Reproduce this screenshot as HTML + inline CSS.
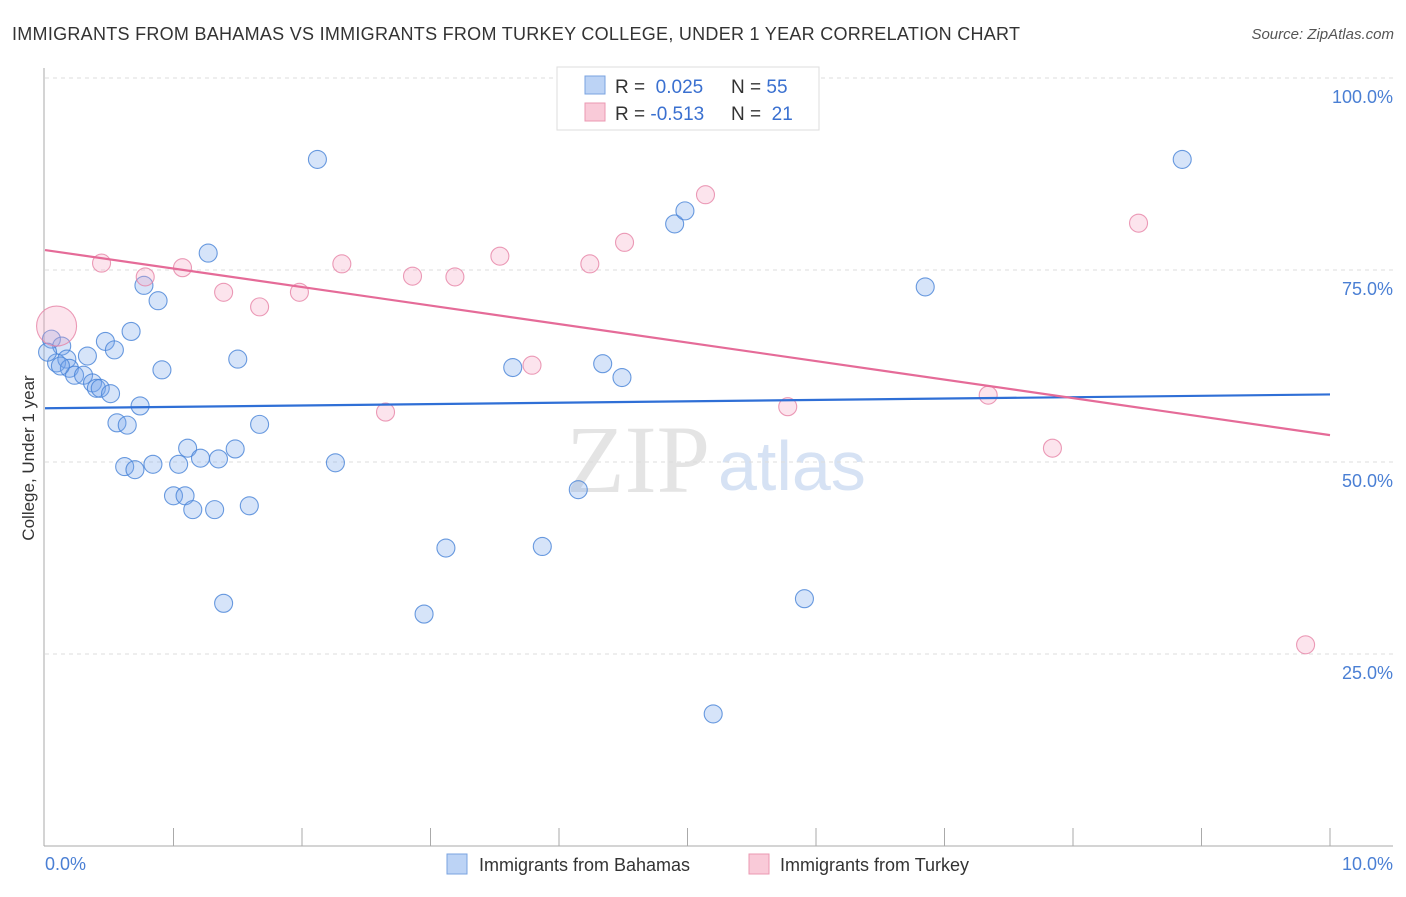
<!DOCTYPE html>
<html><head><meta charset="utf-8"><style>
body{margin:0;background:#fff;font-family:"Liberation Sans",sans-serif}
</style></head><body>
<svg id="chart" width="1406" height="892" xmlns="http://www.w3.org/2000/svg" font-family="Liberation Sans, sans-serif">
<text x="12" y="40" font-size="18" fill="#333" textLength="1008" lengthAdjust="spacing">IMMIGRANTS FROM BAHAMAS VS IMMIGRANTS FROM TURKEY COLLEGE, UNDER 1 YEAR CORRELATION CHART</text>
<text x="1394" y="39" font-size="15" fill="#555" text-anchor="end" font-style="italic">Source: ZipAtlas.com</text>
<text x="710" y="492" font-size="96" fill="#e4e4e4" text-anchor="end" font-family="Liberation Serif, serif">ZIP</text>
<text x="718" y="490" font-size="70" fill="#d6e2f4">atlas</text>
<g id="grid"></g><g id="axes"></g><g id="marks"></g>
<text transform="translate(34,458) rotate(-90)" font-size="17" fill="#333" text-anchor="middle">College, Under 1 year</text>
<text x="45" y="870" font-size="18" fill="#4a7fd4">0.0%</text>
<text x="1393" y="870" font-size="18" fill="#4a7fd4" text-anchor="end">10.0%</text>
<g>
<rect x="557" y="67" width="262" height="63" fill="#fff" stroke="#ddd"/>
<rect x="585" y="76" width="20" height="18" fill="#bcd3f5" stroke="#7aa3e0"/>
<rect x="585" y="103" width="20" height="18" fill="#f9cad8" stroke="#eb98b2"/>
<text x="615" y="93" font-size="19" fill="#333">R = <tspan fill="#3a70d0">&#160;0.025</tspan><tspan x="731">N = </tspan><tspan fill="#3a70d0">55</tspan></text>
<text x="615" y="120" font-size="19" fill="#333">R = <tspan fill="#3a70d0">-0.513</tspan><tspan x="731">N = </tspan><tspan fill="#3a70d0">&#160;21</tspan></text>
</g>
<g>
<rect x="447" y="854" width="20" height="20" fill="#bcd3f5" stroke="#7aa3e0"/>
<text x="479" y="871" font-size="18" fill="#333">Immigrants from Bahamas</text>
<rect x="749" y="854" width="20" height="20" fill="#f9cad8" stroke="#eb98b2"/>
<text x="780" y="871" font-size="18" fill="#333">Immigrants from Turkey</text>
</g>
</svg>
<script>
const yTicks=[25,50,75,100];
const yTickLabels=["25.0%","50.0%","75.0%","100.0%"];
const xTicks=[1,2,3,4,5,6,7,8,9,10];
const bahamasX=[0.05,0.09,0.13,0.17,0.19,0.23,0.30,0.33,0.37,0.40,0.43,0.47,0.51,0.54,0.56,0.64,0.67,0.62,0.70,0.74,0.77,0.84,0.88,0.91,1.00,1.04,1.09,1.11,1.15,1.21,1.27,1.32,1.35,1.39,1.48,1.50,1.59,1.67,2.12,2.26,2.95,3.12,3.64,3.87,4.15,4.34,4.49,4.90,4.98,5.20,5.91,6.85,8.85,0.02,0.12];
const bahamasY=[66.0,62.9,65.1,63.4,62.2,61.3,61.3,63.8,60.3,59.6,59.6,65.7,58.9,64.6,55.1,54.8,67.0,49.4,49.0,57.3,73.0,49.7,71.0,62.0,45.6,49.7,45.6,51.8,43.8,50.5,77.2,43.8,50.4,31.6,51.7,63.4,44.3,54.9,89.4,49.9,30.2,38.8,62.3,39.0,46.4,62.8,61.0,81.0,82.7,17.2,32.2,72.8,89.4,64.3,62.5];
const turkeyX=[0.09,0.44,0.78,1.07,1.39,1.67,1.98,2.31,2.65,2.86,3.19,3.54,3.79,4.24,4.51,5.14,5.78,7.34,7.84,8.51,9.81];
const turkeyY=[67.7,75.9,74.1,75.3,72.1,70.2,72.1,75.8,56.5,74.2,74.1,76.8,62.6,75.8,78.6,84.8,57.2,58.7,51.8,81.1,26.2];
const trendX=[0,10];
const bahamasTrend=[57.0,58.8];
const turkeyTrend=[77.6,53.5];
const NS='http://www.w3.org/2000/svg';
const xs=v=>45+v/10*1285, ys=v=>846-v/25*192;
function mk(t,a,p){const e=document.createElementNS(NS,t);for(const k in a)e.setAttribute(k,a[k]);document.getElementById(p).appendChild(e);return e;}
yTicks.forEach((t,i)=>{
 const l=mk('line',{x1:45,x2:1393,y1:ys(t),y2:ys(t),stroke:'#ddd','stroke-dasharray':'4,4'},'grid');
 
 
 const tx=mk('text',{x:1393,y:ys(t)+25,'font-size':18,fill:'#4a7fd4','text-anchor':'end'},'grid');
 tx.textContent=yTickLabels[i];
 
 
});
const ax=mk('line',{x1:44,x2:44,y1:68,y2:846,stroke:'#aaa'},'axes');


const bx=mk('line',{x1:44,x2:1393,y1:846,y2:846,stroke:'#aaa'},'axes');


xTicks.forEach(t=>{const l=mk('line',{x1:xs(t),x2:xs(t),y1:828,y2:846,stroke:'#aaa'},'axes');
 
 });
bahamasX.forEach((x,i)=>{const c=mk('circle',{cx:xs(x),cy:ys(bahamasY[i]),r:9,fill:'rgba(120,165,235,0.3)',stroke:'rgba(70,130,215,0.8)','stroke-width':1.1},'marks');
 
 });
turkeyX.forEach((x,i)=>{const c=mk('circle',{cx:xs(x),cy:ys(turkeyY[i]),r:i==0?20:9,fill:'rgba(245,165,195,0.3)',stroke:'rgba(230,130,165,0.8)','stroke-width':1.1},'marks');
 
 });
const b=mk('line',{x1:xs(trendX[0]),x2:xs(trendX[1]),y1:ys(bahamasTrend[0]),y2:ys(bahamasTrend[1]),stroke:'#2f6fd6','stroke-width':2.2},'marks');


const p=mk('line',{x1:xs(trendX[0]),x2:xs(trendX[1]),y1:ys(turkeyTrend[0]),y2:ys(turkeyTrend[1]),stroke:'#e56b98','stroke-width':2.2},'marks');


</script>
</body></html>
